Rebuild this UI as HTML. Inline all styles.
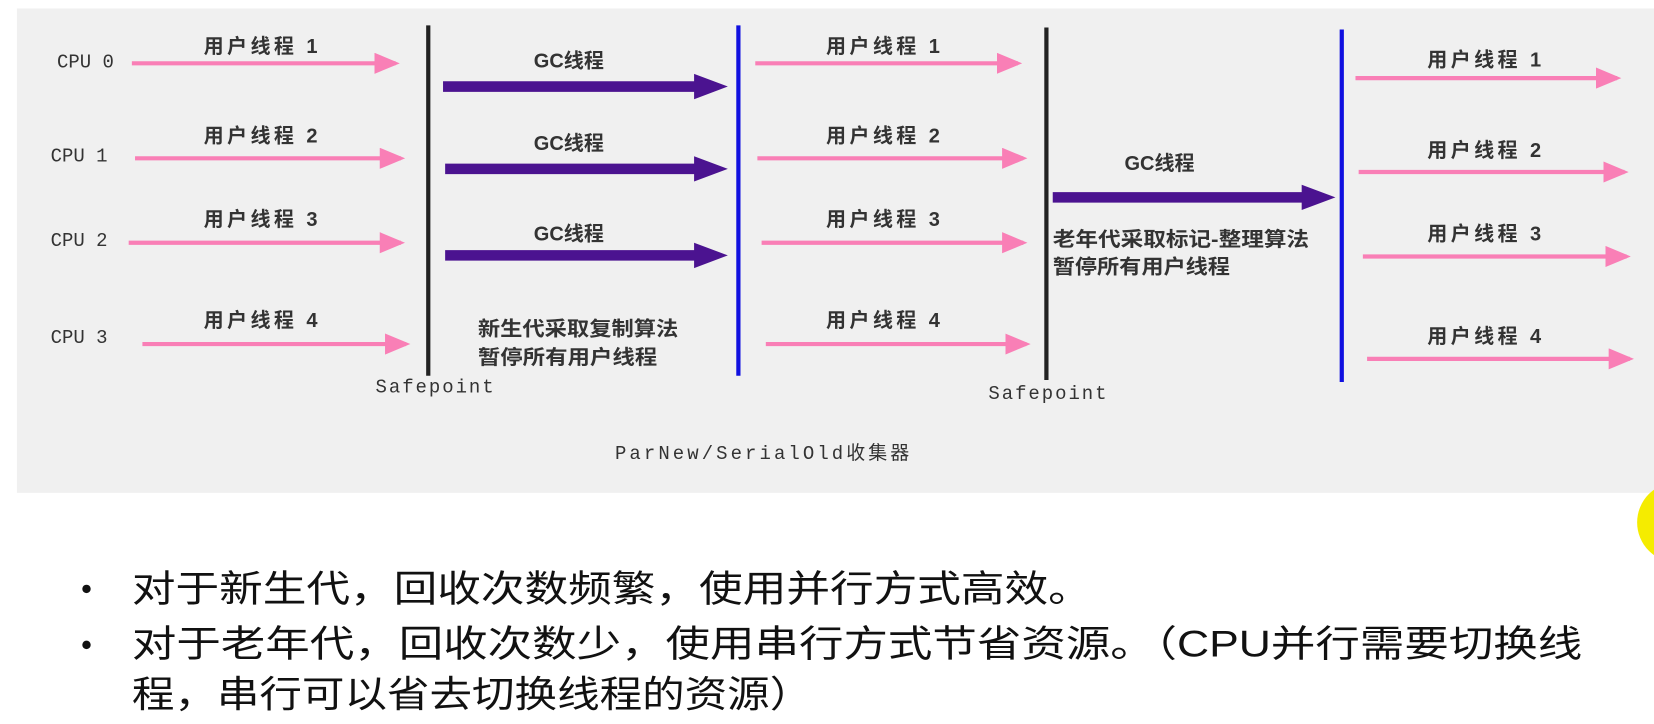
<!DOCTYPE html>
<html><head><meta charset="utf-8"><style>
html,body{margin:0;padding:0;background:#fff;width:1654px;height:724px;overflow:hidden}
svg{display:block}
.u{font-family:"Liberation Sans","Noto Sans CJK SC",sans-serif;font-size:19px;font-weight:bold;fill:#333}
.m{font-family:"Liberation Mono","Noto Sans CJK SC",monospace;font-size:18px;fill:#333}
.b{font-family:"Liberation Sans","Noto Sans CJK SC",sans-serif;font-size:35px;fill:#111}
</style></head><body>
<svg width="1654" height="724" viewBox="0 0 1568 686" preserveAspectRatio="none">
<defs>
<marker id="pk" markerWidth="6" markerHeight="5" refX="5" refY="2.5" orient="auto" markerUnits="strokeWidth"><path d="M0,0L6,2.5L0,5z" fill="#f97fb6"/></marker>
</defs>
<rect x="16" y="8" width="1552" height="459" fill="#f0f0f0"/>
<circle cx="1590" cy="495" r="38" fill="#f5ec00"/>
<g stroke="#f97fb6" stroke-width="4" fill="none" marker-end="url(#pk)">
<line x1="125" y1="60" x2="375" y2="60"/><line x1="128" y1="150" x2="380" y2="150"/><line x1="122" y1="230" x2="380" y2="230"/><line x1="135" y1="326" x2="385" y2="326"/>
<line x1="716" y1="60" x2="965" y2="60"/><line x1="718" y1="150" x2="970" y2="150"/><line x1="722" y1="230" x2="970" y2="230"/><line x1="726" y1="326" x2="973" y2="326"/>
<line x1="1285" y1="74" x2="1533" y2="74"/><line x1="1288" y1="163" x2="1540" y2="163"/><line x1="1292" y1="243" x2="1542" y2="243"/><line x1="1296" y1="340" x2="1545" y2="340"/>
</g>
<g fill="#4b1390">
<path d="M420,77H658V70L690,82L658,94V87H420z"/>
<path d="M422,155H658V148L690,160L658,172V165H422z"/>
<path d="M422,237H658V230L690,242L658,254V247H422z"/>
<path d="M998,182H1234V175L1266,187L1234,199V192H998z"/>
</g>
<line x1="406" y1="24" x2="406" y2="356" stroke="#222" stroke-width="4"/>
<line x1="992" y1="26" x2="992" y2="360" stroke="#222" stroke-width="4"/>
<line x1="700" y1="24" x2="700" y2="356" stroke="#1010e0" stroke-width="4"/>
<line x1="1272" y1="28" x2="1272" y2="362" stroke="#1010e0" stroke-width="4"/>
<g class="m"><text x="54" y="64">CPU 0</text><text x="48" y="153">CPU 1</text><text x="48" y="233">CPU 2</text><text x="48" y="325">CPU 3</text>
<text x="356" y="372" textLength="112">Safepoint</text><text x="937" y="378" textLength="112">Safepoint</text><text x="583" y="435" textLength="279">ParNew/SerialOld收集器</text></g>
<g class="u">
<text x="193" y="50" textLength="108">用户线程 1</text><text x="193" y="135" textLength="108">用户线程 2</text><text x="193" y="214" textLength="108">用户线程 3</text><text x="193" y="310" textLength="108">用户线程 4</text>
<text x="783" y="50" textLength="108">用户线程 1</text><text x="783" y="135" textLength="108">用户线程 2</text><text x="783" y="214" textLength="108">用户线程 3</text><text x="783" y="310" textLength="108">用户线程 4</text>
<text x="1353" y="63" textLength="108">用户线程 1</text><text x="1353" y="149" textLength="108">用户线程 2</text><text x="1353" y="228" textLength="108">用户线程 3</text><text x="1353" y="325" textLength="108">用户线程 4</text>
<text x="506" y="64">GC线程</text><text x="506" y="142">GC线程</text><text x="506" y="228">GC线程</text><text x="1066" y="161">GC线程</text>
<text x="453" y="318" textLength="190" lengthAdjust="spacingAndGlyphs">新生代采取复制算法</text><text x="453" y="345" textLength="170" lengthAdjust="spacingAndGlyphs">暂停所有用户线程</text>
<text x="998" y="233" textLength="243" lengthAdjust="spacingAndGlyphs">老年代采取标记-整理算法</text><text x="998" y="259" textLength="168" lengthAdjust="spacingAndGlyphs">暂停所有用户线程</text>
</g>
<g class="b">
<circle cx="82" cy="558" r="4" fill="#111"/><circle cx="82" cy="611" r="4" fill="#111"/>
<text x="125" y="570" textLength="910" lengthAdjust="spacingAndGlyphs">对于新生代，回收次数频繁，使用并行方式高效。</text>
<text x="125" y="622" textLength="1375" lengthAdjust="spacingAndGlyphs">对于老年代，回收次数少，使用串行方式节省资源。（CPU并行需要切换线</text>
<text x="125" y="670" textLength="645" lengthAdjust="spacingAndGlyphs">程，串行可以省去切换线程的资源）</text>
</g>
</svg>
</body></html>
